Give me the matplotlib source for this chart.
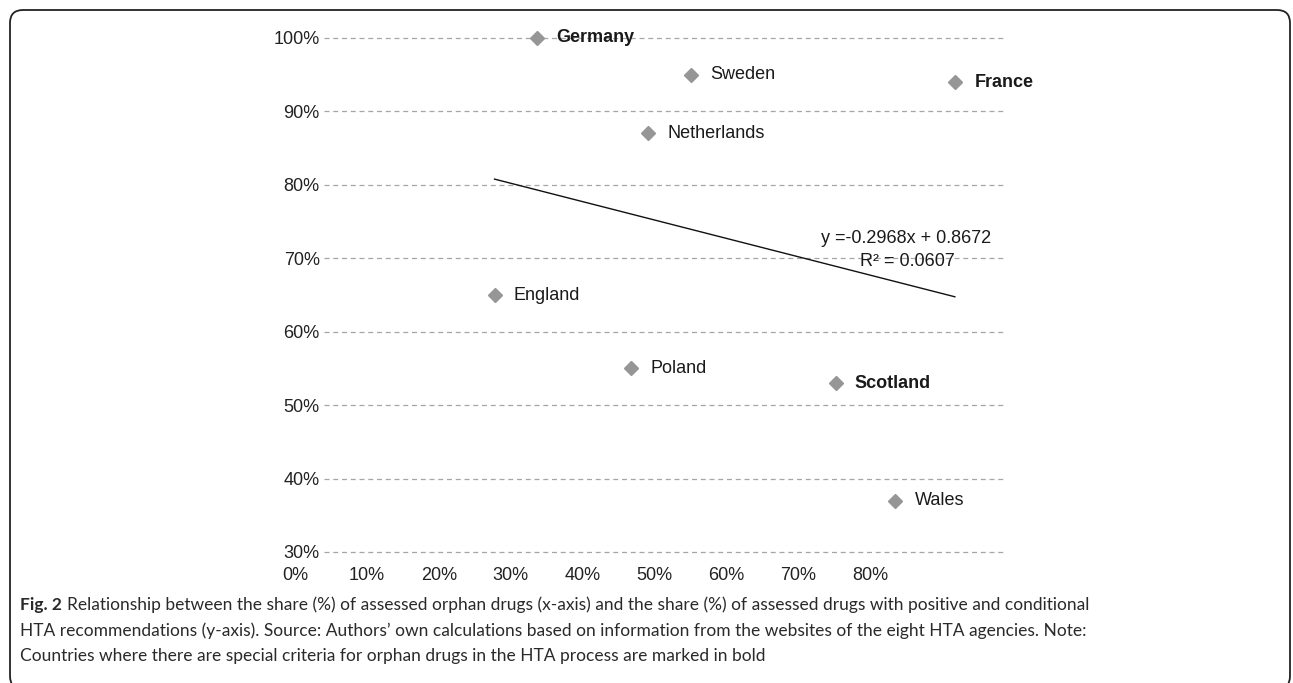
import matplotlib
matplotlib.use("Agg")
import matplotlib.pyplot as plt
import numpy as np
from matplotlib.patches import FancyBboxPatch

countries = ["Germany", "Sweden", "France", "Netherlands", "England", "Poland", "Scotland", "Wales"]
orphan_share = [0.25, 0.43, 0.74, 0.38, 0.20, 0.36, 0.60, 0.67]
positive_share = [1.00, 0.95, 0.94, 0.87, 0.65, 0.55, 0.53, 0.37]
bold_countries = ["Germany", "France", "Scotland"]
slope, intercept, r2 = -0.2968, 0.8672, 0.0607

xticks = [0.0, 0.1, 0.2, 0.3, 0.4, 0.5, 0.6, 0.7, 0.8]
yticks = [0.3, 0.4, 0.5, 0.6, 0.7, 0.8, 0.9, 1.0]

W, H = 1293, 683
fig = plt.figure(figsize=(W / 100, H / 100), dpi=100)
CH = "Liberation Sans"
FS = 13

# rounded frame around the whole figure
frame = FancyBboxPatch((0.10, -0.06), 12.80, 6.79, boxstyle="round,pad=0,rounding_size=0.13",
                       transform=fig.dpi_scale_trans, fill=False, ec="#222222", lw=1.3)
fig.patches.append(frame)

ax = fig.add_axes([324 / W, 1 - 552 / H, 682 / W, 514 / H])
ax.set_xlim(0, 0.8)
ax.set_ylim(0.3, 1.0)
for s in ax.spines.values():
    s.set_visible(False)
ax.set_xticks([])
ax.set_yticks(yticks)
ax.set_yticklabels([f"{v:.0%}" for v in yticks], fontfamily=CH, fontsize=FS, color="#222222")
ax.tick_params(axis="y", length=0, pad=3)
for v in yticks:
    ax.axhline(v, color="#a6a6a6", lw=0.9, ls=(0, (4, 3)), zorder=0, clip_on=False)

ax.plot(orphan_share, positive_share, ls="none", marker="D", ms=6.8, color="#969696",
        mec="#969696", clip_on=False, zorder=3)
for c, x, y in zip(countries, orphan_share, positive_share):
    ax.annotate(c, (x, y), xytext=(14, 0), textcoords="offset points", va="center", ha="left",
                fontfamily=CH, fontsize=FS, color="#1a1a1a",
                fontweight="bold" if c in bold_countries else "normal")

# linear trend line over the data range
xs = np.array([min(orphan_share), max(orphan_share)])
ax.plot(xs, slope * xs + intercept, color="#111111", lw=1.0, zorder=2)
ax.text(0.782, 0.727, f"y =-{abs(slope):.4f}x + {intercept:.4f}", ha="right", va="center",
        fontfamily=CH, fontsize=FS, color="#1a1a1a")
ax.text(0.684, 0.696, f"R² = {r2:.4f}", ha="center", va="center",
        fontfamily=CH, fontsize=FS, color="#1a1a1a")

# x tick labels (offset from plot area as in the original)
axl = fig.add_axes([295 / W, 1 - 552 / H, 575 / W, 0.01], frameon=False)
axl.set_xlim(0, 0.8)
axl.set_yticks([])
axl.set_xticks(xticks)
axl.set_xticklabels([f"{v:.0%}" for v in xticks], fontfamily=CH, fontsize=FS, color="#222222")
axl.tick_params(axis="x", length=0, pad=11)
axl.patch.set_visible(False)

# caption
cap_font = dict(fontfamily="Lato", fontsize=12.5, color="#2a2a2a")
lines = ["Relationship between the share (%) of assessed orphan drugs (x-axis) and the share (%) of assessed drugs with positive and conditional",
         "HTA recommendations (y-axis). Source: Authors\u2019 own calculations based on information from the websites of the eight HTA agencies. Note:",
         "Countries where there are special criteria for orphan drugs in the HTA process are marked in bold"]
t0 = fig.text(20 / W, 1 - 605 / H, "Fig. 2", fontweight="bold", va="center", ha="left", **cap_font)
fig.canvas.draw()
bb = t0.get_window_extent()
fig.text((bb.x1 + 5) / W, 1 - 605 / H, lines[0], va="center", ha="left", **cap_font)
fig.text(20 / W, 1 - 631 / H, lines[1], va="center", ha="left", **cap_font)
fig.text(20 / W, 1 - 656 / H, lines[2], va="center", ha="left", **cap_font)

fig.savefig("out.png", dpi=100)
